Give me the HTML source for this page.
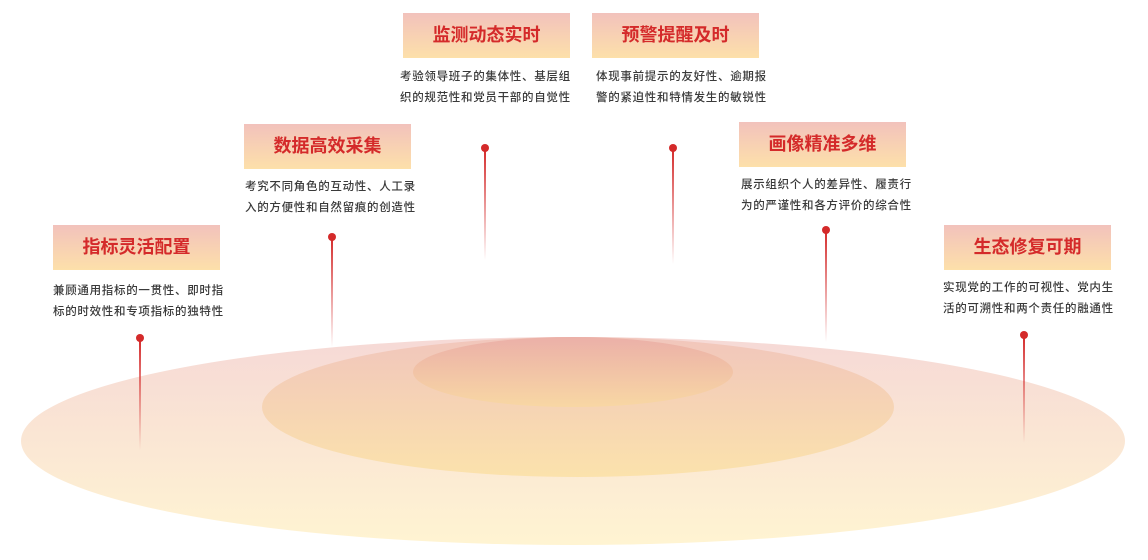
<!DOCTYPE html>
<html><head><meta charset="utf-8"><style>
body{margin:0;width:1148px;height:560px;background:#fff;position:relative;overflow:hidden;font-family:"Liberation Sans","Noto Sans CJK SC",sans-serif}
.b{position:absolute;width:167px;height:45px;background:linear-gradient(#f2c2bc,#fde0aa);color:#d42a2a;font-weight:bold;font-size:18px;line-height:45px;text-align:center}
.d{position:absolute;width:176px;font-size:11.5px;line-height:21px;color:#3a3a3a;text-align:left;letter-spacing:0.7px;font-weight:500;white-space:nowrap}
svg{position:absolute;left:0;top:0}
</style></head><body>
<svg width="1148" height="560">
<defs>
<linearGradient id="o" x1="0" y1="0" x2="0" y2="1"><stop offset="0" stop-color="#f6d9d6"/><stop offset="1" stop-color="#fff4d2"/></linearGradient>
<linearGradient id="m" x1="0" y1="0" x2="0" y2="1"><stop offset="0" stop-color="#f1c6bc"/><stop offset="1" stop-color="#fbe2ac"/></linearGradient>
<linearGradient id="i" x1="0" y1="0" x2="0" y2="1"><stop offset="0" stop-color="#ebb0a8"/><stop offset="1" stop-color="#f8d7a4"/></linearGradient>
<linearGradient id="l" x1="0" y1="0" x2="0" y2="1"><stop offset="0" stop-color="#d42a2a"/><stop offset="1" stop-color="#d42a2a" stop-opacity="0"/></linearGradient>
</defs>
<ellipse cx="573" cy="441" rx="552" ry="104" fill="url(#o)"/>
<ellipse cx="578" cy="407" rx="316" ry="70" fill="url(#m)"/>
<ellipse cx="573" cy="372" rx="160" ry="35" fill="url(#i)"/>
<g fill="url(#l)">
<rect x="139" y="338" width="2" height="112"/>
<rect x="331" y="237" width="2" height="110"/>
<rect x="484" y="148" width="2" height="112"/>
<rect x="672" y="148" width="2" height="116"/>
<rect x="825" y="230" width="2" height="112"/>
<rect x="1023" y="335" width="2" height="108"/>
</g>
<g fill="#d42a2a">
<circle cx="140" cy="338" r="4"/><circle cx="332" cy="237" r="4"/><circle cx="485" cy="148" r="4"/>
<circle cx="673" cy="148" r="4"/><circle cx="826" cy="230" r="4"/><circle cx="1024" cy="335" r="4"/>
</g>
</svg>
<div class="b" style="left:403px;top:13px">监测动态实时</div>
<div class="d" style="left:400px;top:67px">考验领导班子的集体性、基层组<br>织的规范性和党员干部的自觉性</div>
<div class="b" style="left:592px;top:13px">预警提醒及时</div>
<div class="d" style="left:596px;top:67px">体现事前提示的友好性、逾期报<br>警的紧迫性和特情发生的敏锐性</div>
<div class="b" style="left:244px;top:124px">数据高效采集</div>
<div class="d" style="left:245px;top:177px">考究不同角色的互动性、人工录<br>入的方便性和自然留痕的创造性</div>
<div class="b" style="left:739px;top:122px">画像精准多维</div>
<div class="d" style="left:741px;top:175px">展示组织个人的差异性、履责行<br>为的严谨性和各方评价的综合性</div>
<div class="b" style="left:53px;top:225px">指标灵活配置</div>
<div class="d" style="left:53px;top:281px">兼顾通用指标的一贯性、即时指<br>标的时效性和专项指标的独特性</div>
<div class="b" style="left:944px;top:225px">生态修复可期</div>
<div class="d" style="left:943px;top:278px">实现党的工作的可视性、党内生<br>活的可溯性和两个责任的融通性</div>
</body></html>
